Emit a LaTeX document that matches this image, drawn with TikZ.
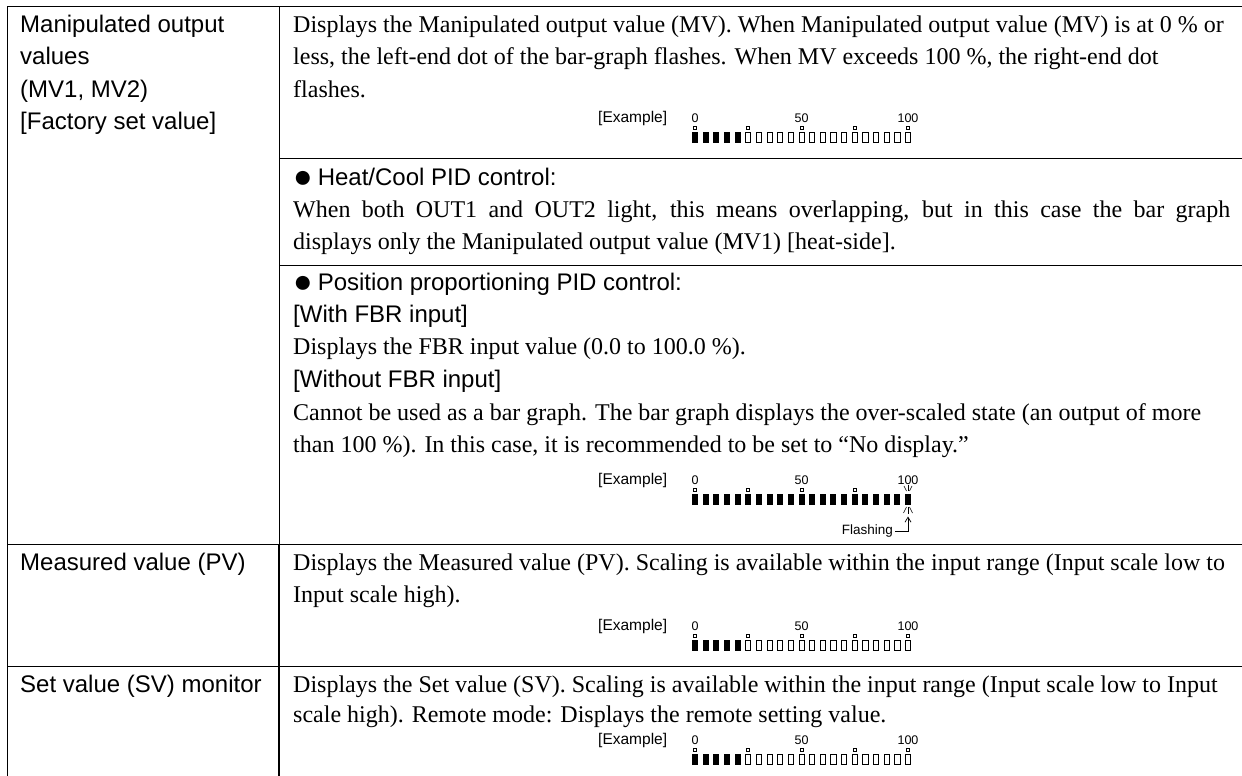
\documentclass[tikz,border=0pt]{standalone}
\usepackage{fontspec}
\setmainfont{Liberation Serif}
\newfontfamily\arialf{Liberation Sans}
\usetikzlibrary{arrows.meta}
\tikzset{
  txt/.style={anchor=base west, inner sep=0pt, font=\fontsize{24}{28}\selectfont},
  atxt/.style={anchor=base west, inner sep=0pt, font=\arialf\fontsize{24}{28}\selectfont},
  rule/.style={line width=1pt},
  thickrule/.style={line width=2pt},
  exlab/.style={anchor=west, inner sep=0pt, font=\arialf\fontsize{15.5}{18}\selectfont},
  numlab/.style={anchor=center, inner sep=0pt, font=\arialf\fontsize{12.5}{14}\selectfont},
  segon/.style={fill=black, draw=none, minimum width=6pt, minimum height=11pt, inner sep=0pt, outer sep=0pt},
  segoff/.style={draw=black, line width=0.8pt, fill=white, minimum width=5.2pt, minimum height=10.2pt, inner sep=0pt, outer sep=0pt},
  tickdot/.style={draw=black, line width=0.7pt, minimum size=3pt, inner sep=0pt},
  ray/.style={line width=0.6pt},
}
\newcommand\mybullet{\raisebox{-2.5pt}{\scalebox{1.35}{●}}\hspace{5pt}}
\newcommand\mybargraph[4]{%
  \node[exlab] (#1ex) at (598,#2) {[Example]};
  \node[numlab] (#1n0) at (695,#2) {0};
  \node[numlab] (#1n50) at (801.5,#2) {50};
  \node[numlab] (#1n100) at (908,#2) {100};
  \foreach \i in {0,...,20}{
    \pgfmathsetmacro\xx{695+10.65*\i}
    \ifnum\i<#3\relax
      \node[segon] (#1s\i) at (\xx,#2+19) {};
    \else
      \node[segoff] (#1s\i) at (\xx,#2+19) {};
    \fi
  }
  \foreach \i in {#4}{
    \pgfmathsetmacro\xx{695+10.65*\i}
    \node[tickdot] (#1t\i) at (\xx,#2+9.5) {};
  }
}
\begin{document}
\begin{tikzpicture}[x=1pt,y=-1pt]
\useasboundingbox (0,0) rectangle (1242,776);
\fill[white] (0,0) rectangle (1242,776);

% table rules
\draw[rule] (7,7) -- (1242,7);
\draw[rule] (7,7) -- (7,776);
\draw[rule] (279,7) -- (279,544);
\draw[thickrule] (279,544) -- (279,776);
\draw[rule] (279,158) -- (1242,158);
\draw[rule] (279,265) -- (1242,265);
\draw[rule] (7,544) -- (1242,544);
\draw[rule] (7,666) -- (1242,666);

% left column
\node[atxt] (l1a) at (20,33) {Manipulated output};
\node[atxt] (l1b) at (20,65) {values};
\node[atxt] (l1c) at (20,97) {(MV1, MV2)};
\node[atxt] (l1d) at (20,129) {[Factory set value]};
\node[atxt] (l4) at (20,570) {Measured value (PV)};
\node[atxt] (l5) at (20,692) {Set value (SV) monitor};

% row 1
\node[txt] (r1a) at (293,33) {Displays the Manipulated output value (MV). When Manipulated output value (MV) is at 0 \% or};
\node[txt] (r1b) at (293,65) {less, the left-end dot of the bar-graph flashes. When MV exceeds 100 \%, the right-end dot};
\node[txt] (r1c) at (293,97) {flashes.};
\mybargraph{a}{118}{5}{0,5,10,15,20}

% row 2
\node[atxt] (r2a) at (293,185) {\mybullet Heat/Cool PID control:};
\node[txt] (r2b) at (293,217) {\makebox[937pt][s]{When both OUT1 and OUT2 light, this means overlapping, but in this case the bar graph}};
\node[txt] (r2c) at (293,249) {displays only the Manipulated output value (MV1) [heat-side].};

% row 3
\node[atxt] (r3a) at (293,290) {\mybullet Position proportioning PID control:};
\node[atxt] (r3b) at (293,322) {[With FBR input]};
\node[txt] (r3c) at (293,354) {Displays the FBR input value (0.0 to 100.0 \%).};
\node[atxt] (r3d) at (293,387) {[Without FBR input]};
\node[txt] (r3e) at (293,420) {Cannot be used as a bar graph. The bar graph displays the over-scaled state (an output of more};
\node[txt] (r3f) at (293,452) {than 100 \%). In this case, it is recommended to be set to “No display.”};
\mybargraph{c}{480}{21}{0,5,10,15}
% flashing rays on last dot
\draw[ray] (904,486) -- (906.5,491);
\draw[ray] (908,485) -- (908,491);
\draw[ray] (912,486) -- (909.5,491);
\draw[ray] (906.5,507) -- (903.5,513);
\draw[ray] (908,507) -- (908,514);
\draw[ray] (909.5,507) -- (912.5,513);
\node[anchor=east, inner sep=0pt, font=\arialf\fontsize{13.5}{16}\selectfont] (flash) at (893,531) {Flashing};
\coordinate (tip) at ([yshift=-12pt]cs20.south);
\draw[line width=0.7pt, -{Straight Barb[length=5pt,width=6pt]}] ([xshift=2pt]flash.east) -| (tip);

% row 4
\node[txt] (r4a) at (293,570) {Displays the Measured value (PV). Scaling is available within the input range (Input scale low to};
\node[txt] (r4b) at (293,602) {Input scale high).};
\mybargraph{d}{626}{5}{0,5,10,15,20}

% row 5
\node[txt] (r5a) at (293,692) {Displays the Set value (SV). Scaling is available within the input range (Input scale low to Input};
\node[txt] (r5b) at (293,722) {scale high). Remote mode: Displays the remote setting value.};
\mybargraph{e}{740}{5}{0,5,10,15,20}
\end{tikzpicture}
\end{document}
